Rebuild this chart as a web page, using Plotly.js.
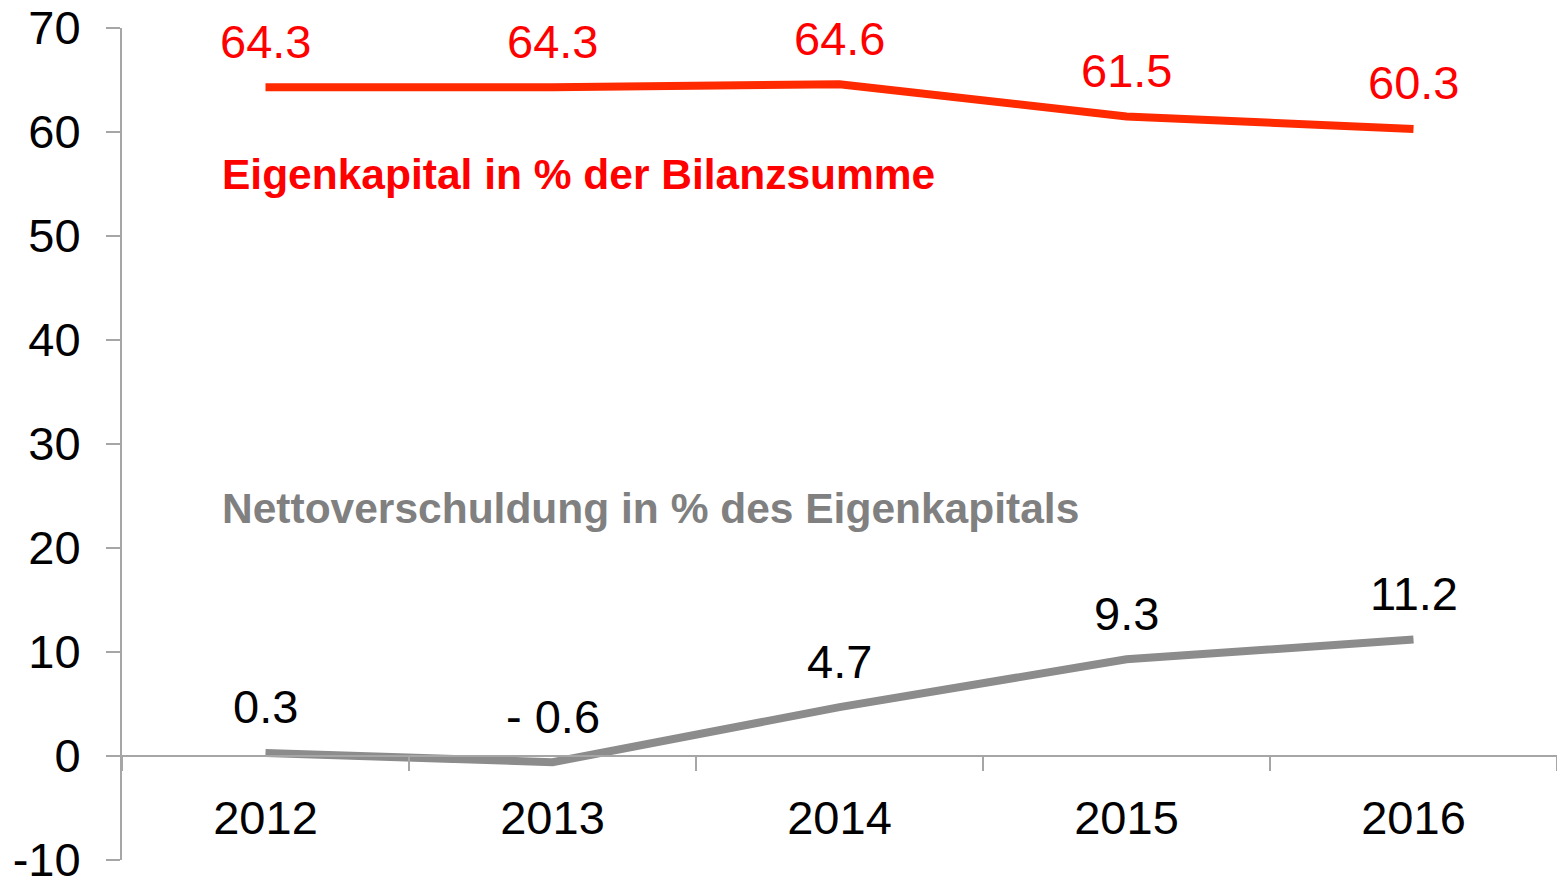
<!DOCTYPE html>
<html>
<head>
<meta charset="utf-8">
<script src="https://cdn.plot.ly/plotly-3.0.1.min.js"></script>
<style>html,body{margin:0;padding:0;background:#fff;}#chart{width:1557px;height:884px;}</style>
</head>
<body>
<div id="chart"></div>
<script>
const years = ['2012', '2013', '2014', '2015', '2016'];
const eigenkapital = [64.3, 64.3, 64.6, 61.5, 60.3];
const eigenkapitalLabels = ['64.3', '64.3', '64.6', '61.5', '60.3'];
const nettoverschuldung = [0.3, -0.6, 4.7, 9.3, 11.2];
const nettoLabels = ['0.3', '- 0.6', '4.7', '9.3', '11.2'];
const yTicks = [-10, 0, 10, 20, 30, 40, 50, 60, 70];
const seriesNames = ['Eigenkapital in % der Bilanzsumme', 'Nettoverschuldung in % des Eigenkapitals'];

const FONT = 'Liberation Sans, Arial, sans-serif';
const AXIS = '#a6a6a6';

const traces = [
  {x: years, y: eigenkapital, type: 'scatter', mode: 'lines', name: seriesNames[0],
   line: {color: '#ff2a00', width: 8}, hoverinfo: 'skip'},
  {x: years, y: nettoverschuldung, type: 'scatter', mode: 'lines', name: seriesNames[1],
   line: {color: '#8c8c8c', width: 8}, hoverinfo: 'skip'}
];

const annotations = [];
years.forEach((yr, i) => {
  // category axis: position annotations by category index
  annotations.push({x: i, y: eigenkapital[i], xref: 'x', yref: 'y', text: eigenkapitalLabels[i],
    showarrow: false, yshift: 46, font: {family: FONT, size: 47, color: '#ff0000'}});
  annotations.push({x: i, y: nettoverschuldung[i], xref: 'x', yref: 'y', text: nettoLabels[i],
    showarrow: false, yshift: 46, font: {family: FONT, size: 47, color: '#000000'}});
});
annotations.push({x: 0.0683, y: 55.9, xref: 'paper', yref: 'y', xanchor: 'left', yanchor: 'middle',
  text: '<b>' + seriesNames[0] + '</b>', showarrow: false, font: {family: FONT, size: 42.5, color: '#ff0000'}});
annotations.push({x: 0.0683, y: 23.8, xref: 'paper', yref: 'y', xanchor: 'left', yanchor: 'middle',
  text: '<b>' + seriesNames[1] + '</b>', showarrow: false, font: {family: FONT, size: 42.5, color: '#808080'}});

const layout = {
  width: 1557, height: 884,
  margin: {l: 122, r: 0, t: 28, b: 24},
  paper_bgcolor: '#ffffff', plot_bgcolor: '#ffffff',
  showlegend: false,
  font: {family: FONT, size: 47, color: '#000000'},
  xaxis: {
    type: 'category', range: [-0.5, 4.5], anchor: 'free', position: 0.125,
    showline: true, linecolor: AXIS, linewidth: 2, showgrid: false, zeroline: false,
    ticks: 'outside', tickson: 'boundaries', ticklen: 14, tickwidth: 2, tickcolor: AXIS,
    ticklabelstandoff: 21,
    tickfont: {family: FONT, size: 47, color: '#000000'}
  },
  yaxis: {
    range: [-10, 70], tickvals: yTicks, ticktext: yTicks.map(String),
    showline: true, linecolor: AXIS, linewidth: 2, showgrid: false, zeroline: false,
    ticks: 'outside', ticklen: 14, tickwidth: 2, tickcolor: AXIS,
    ticklabelstandoff: 16, ticklabeloverflow: 'allow',
    tickfont: {family: FONT, size: 47, color: '#000000'}
  },
  annotations: annotations
};

Plotly.newPlot('chart', traces, layout, {staticPlot: true, displayModeBar: false});
</script>
</body>
</html>
